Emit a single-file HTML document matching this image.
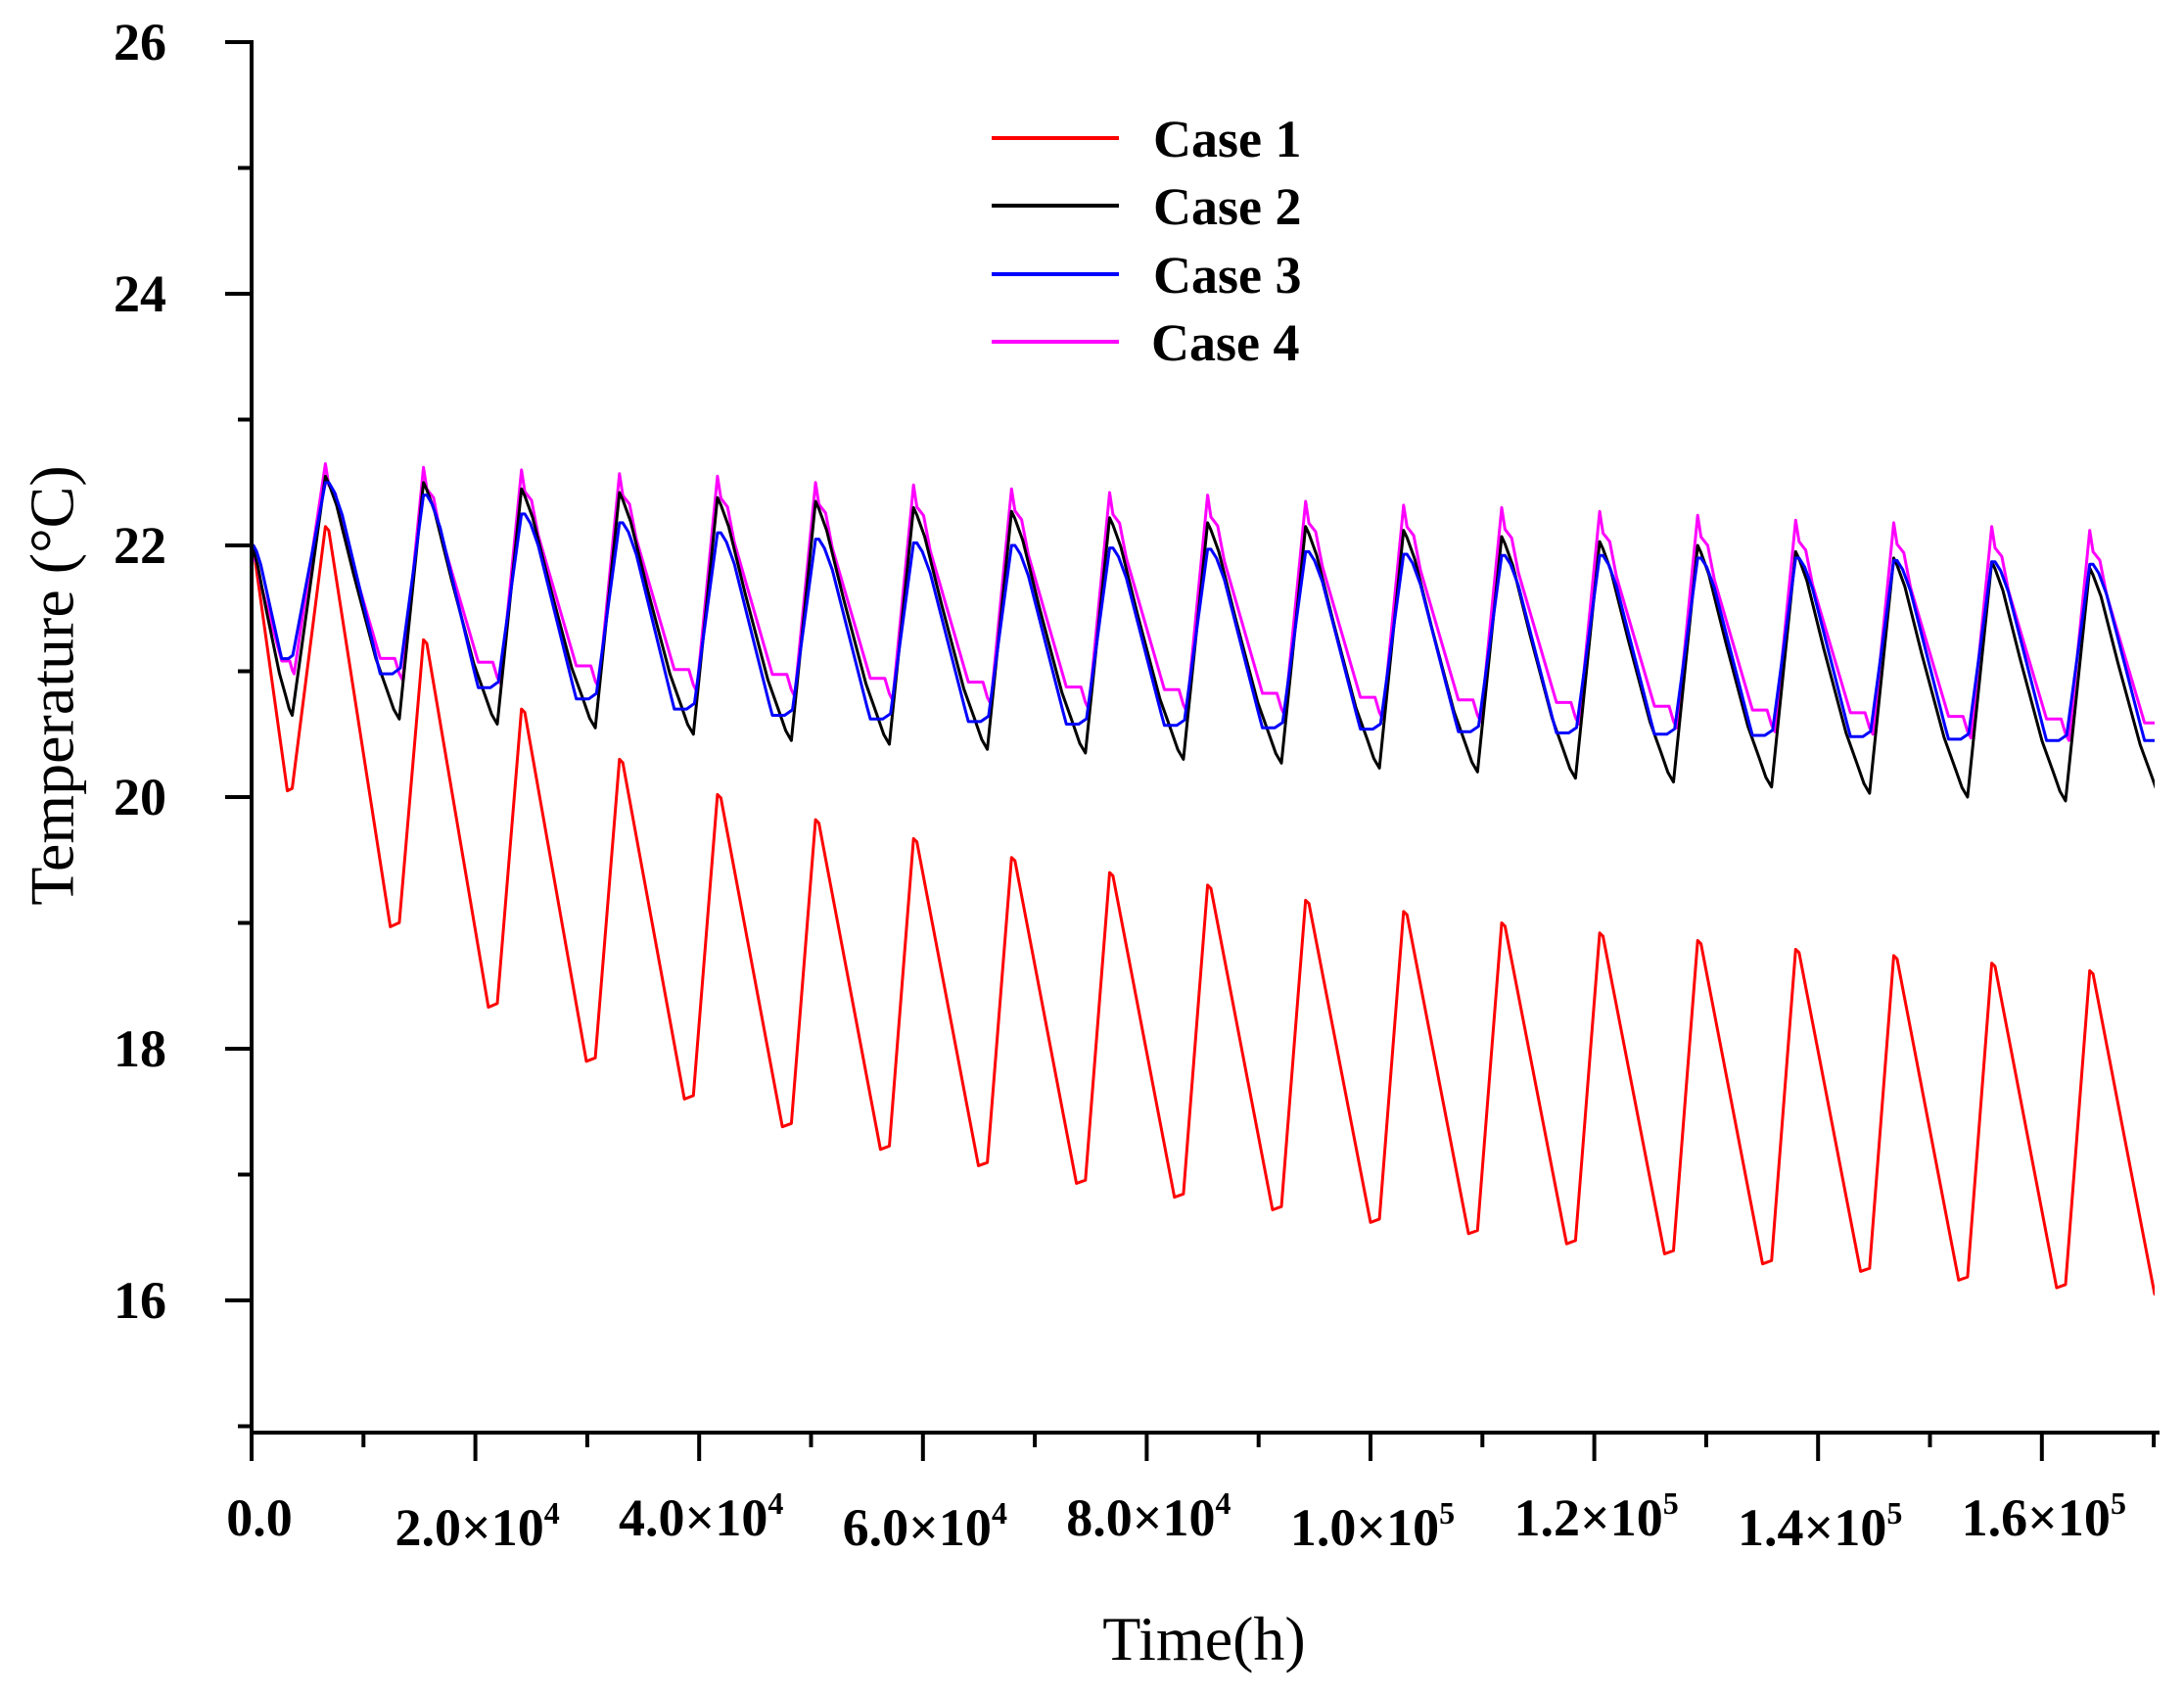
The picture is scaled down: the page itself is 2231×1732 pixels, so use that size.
<!DOCTYPE html>
<html><head><meta charset="utf-8"><style>
html,body{margin:0;padding:0;background:#fff;}
svg{display:block;}
.tl{font-family:"Liberation Serif",serif;font-weight:bold;font-size:54px;fill:#000;}
</style></head><body>
<svg id="s" width="2231" height="1732" viewBox="0 0 2231 1732" xmlns="http://www.w3.org/2000/svg">
<defs><clipPath id="c"><rect x="257" y="0" width="1944" height="1463"/></clipPath></defs>
<g id="series" clip-path="url(#c)" fill="none" stroke-width="3" stroke-linejoin="round"></g>
<g stroke="#000" stroke-width="4" fill="none">
<line x1="257" y1="41" x2="257" y2="1492"/>
<line x1="255" y1="1463" x2="2206" y2="1463"/>
</g>
<g id="ticks" stroke="#000" stroke-width="4"></g>
<g id="labels"></g>
<text x="60" y="700" transform="rotate(-90 60 700)" text-anchor="middle" dominant-baseline="middle" font-family="Liberation Serif,serif" font-size="64">Temperature (°C)</text>
<text x="1230" y="1695" text-anchor="middle" font-family="Liberation Serif,serif" font-size="64">Time(h)</text>
<g stroke-width="4">
<line x1="1013" y1="141" x2="1143" y2="141" stroke="#ff0000"/>
<line x1="1013" y1="210" x2="1143" y2="210" stroke="#000"/>
<line x1="1013" y1="280" x2="1143" y2="280" stroke="#0000ff"/>
<line x1="1013" y1="349" x2="1143" y2="349" stroke="#ff00ff"/>
</g>
<g font-family="Liberation Serif,serif" font-weight="bold" font-size="54">
<text x="1178" y="160">Case 1</text>
<text x="1178" y="229">Case 2</text>
<text x="1178" y="299">Case 3</text>
<text x="1176" y="368">Case 4</text>
</g>
</svg>
<script>
var NS="http://www.w3.org/2000/svg";
function X(t){return 257+t*0.01143;}
function Y(T){return 43+(26-T)*128.5;}
var tk=document.getElementById('ticks'),lb=document.getElementById('labels');
function ln(a,b,c,d){var l=document.createElementNS(NS,'line');l.setAttribute('x1',a);l.setAttribute('y1',b);l.setAttribute('x2',c);l.setAttribute('y2',d);tk.appendChild(l);}
function tx(x,y,s,anchor){var t=document.createElementNS(NS,'text');t.setAttribute('x',x);t.setAttribute('y',y);t.setAttribute('class','tl');t.setAttribute('text-anchor',anchor);t.innerHTML=s;lb.appendChild(t);}
for(var T=15;T<=26;T++){var y=Y(T);if(T%2==0){ln(230,y,257,y);tx(170,y+18,T,'end');}else if(T<26){ln(243,y,257,y);}}
var xl=["0.0","2.0×10<tspan dy='-22' font-size='32'>4</tspan>","4.0×10<tspan dy='-22' font-size='32'>4</tspan>","6.0×10<tspan dy='-22' font-size='32'>4</tspan>","8.0×10<tspan dy='-22' font-size='32'>4</tspan>","1.0×10<tspan dy='-22' font-size='32'>5</tspan>","1.2×10<tspan dy='-22' font-size='32'>5</tspan>","1.4×10<tspan dy='-22' font-size='32'>5</tspan>","1.6×10<tspan dy='-22' font-size='32'>5</tspan>"];
for(var i=0;i<=17;i++){var x=X(i*1e4);if(i%2==0){ln(x,1463,x,1492);tx(x+(i==0?8:2),i%4==2?1578:1568,xl[i/2],'middle');}else ln(x,1463,x,1478);}
var P0=6600,per=8760;
var S=[
{c:"#ff0000",shape:[[300,0.01],[5800,1],[6600,0.99]],
 pk:[22.15,21.25,20.7,20.3,20.02,19.82,19.67,19.52,19.4,19.3,19.18,19.09,19.0,18.92,18.86,18.79,18.74,18.68,18.62],
 mn:[20.05,18.97,18.33,17.9,17.6,17.38,17.2,17.07,16.93,16.82,16.72,16.62,16.53,16.45,16.37,16.29,16.23,16.16,16.1,16.05]},
{c:"#ff00ff",shape:[[300,0.1],[900,0.14],[1500,0.3],[4900,0.9],[5000,0.9],[5600,0.9],[6200,0.9],[6600,0.97],[6900,1.0]],
 pk:[22.65,22.62,22.6,22.57,22.55,22.5,22.48,22.45,22.42,22.4,22.35,22.32,22.3,22.27,22.24,22.2,22.18,22.15,22.12],
 mn:[20.98,20.93,20.9,20.87,20.84,20.8,20.77,20.74,20.7,20.68,20.65,20.62,20.6,20.58,20.55,20.52,20.5,20.47,20.45,20.42]},
{c:"#000000",shape:[[300,0.03],[1000,0.12],[2500,0.4],[4500,0.75],[5500,0.88],[6100,0.96],[6600,1.0]],
 pk:[22.55,22.5,22.45,22.42,22.38,22.35,22.3,22.27,22.22,22.18,22.15,22.12,22.07,22.03,22.0,21.95,21.9,21.87,21.82],
 mn:[20.65,20.62,20.58,20.55,20.5,20.45,20.42,20.38,20.35,20.3,20.27,20.23,20.2,20.15,20.12,20.08,20.03,20.0,19.97,19.95]},
{c:"#0000ff",shape:[[300,0.0],[800,0.05],[1500,0.17],[4600,0.93],[4900,1.0],[6000,1.0],[6700,0.97]],
 pk:[22.5,22.4,22.25,22.18,22.1,22.05,22.02,22.0,21.98,21.97,21.95,21.93,21.92,21.92,21.9,21.9,21.88,21.87,21.85],
 mn:[21.1,20.98,20.87,20.78,20.7,20.65,20.62,20.6,20.58,20.57,20.55,20.54,20.52,20.51,20.5,20.49,20.48,20.46,20.45,20.45]}
];
var g=document.getElementById('series');
S.forEach(function(s){
 var pts=[];
 function add(t,v){pts.push(X(t).toFixed(1)+","+Y(v).toFixed(1));}
 pts.push(X(0).toFixed(1)+","+Y(22).toFixed(1));
 for(var k=0;k<20;k++){
  var P=P0+per*(k-1);
  var pk=(k==0)?22.0:s.pk[k-1];var mn=s.mn[k];
  s.shape.forEach(function(q){
   var t=P+q[0];
   if(k==0){t=q[0]*0.55;}
   add(t,pk-(pk-mn)*q[1]);
  });
  if(k<19){var Pn=P0+per*k;add(Pn,s.pk[k]);}
 }
 var pl=document.createElementNS(NS,'polyline');pl.setAttribute('points',pts.join(' '));pl.setAttribute('stroke',s.c);g.appendChild(pl);
});
</script>
</body></html>
